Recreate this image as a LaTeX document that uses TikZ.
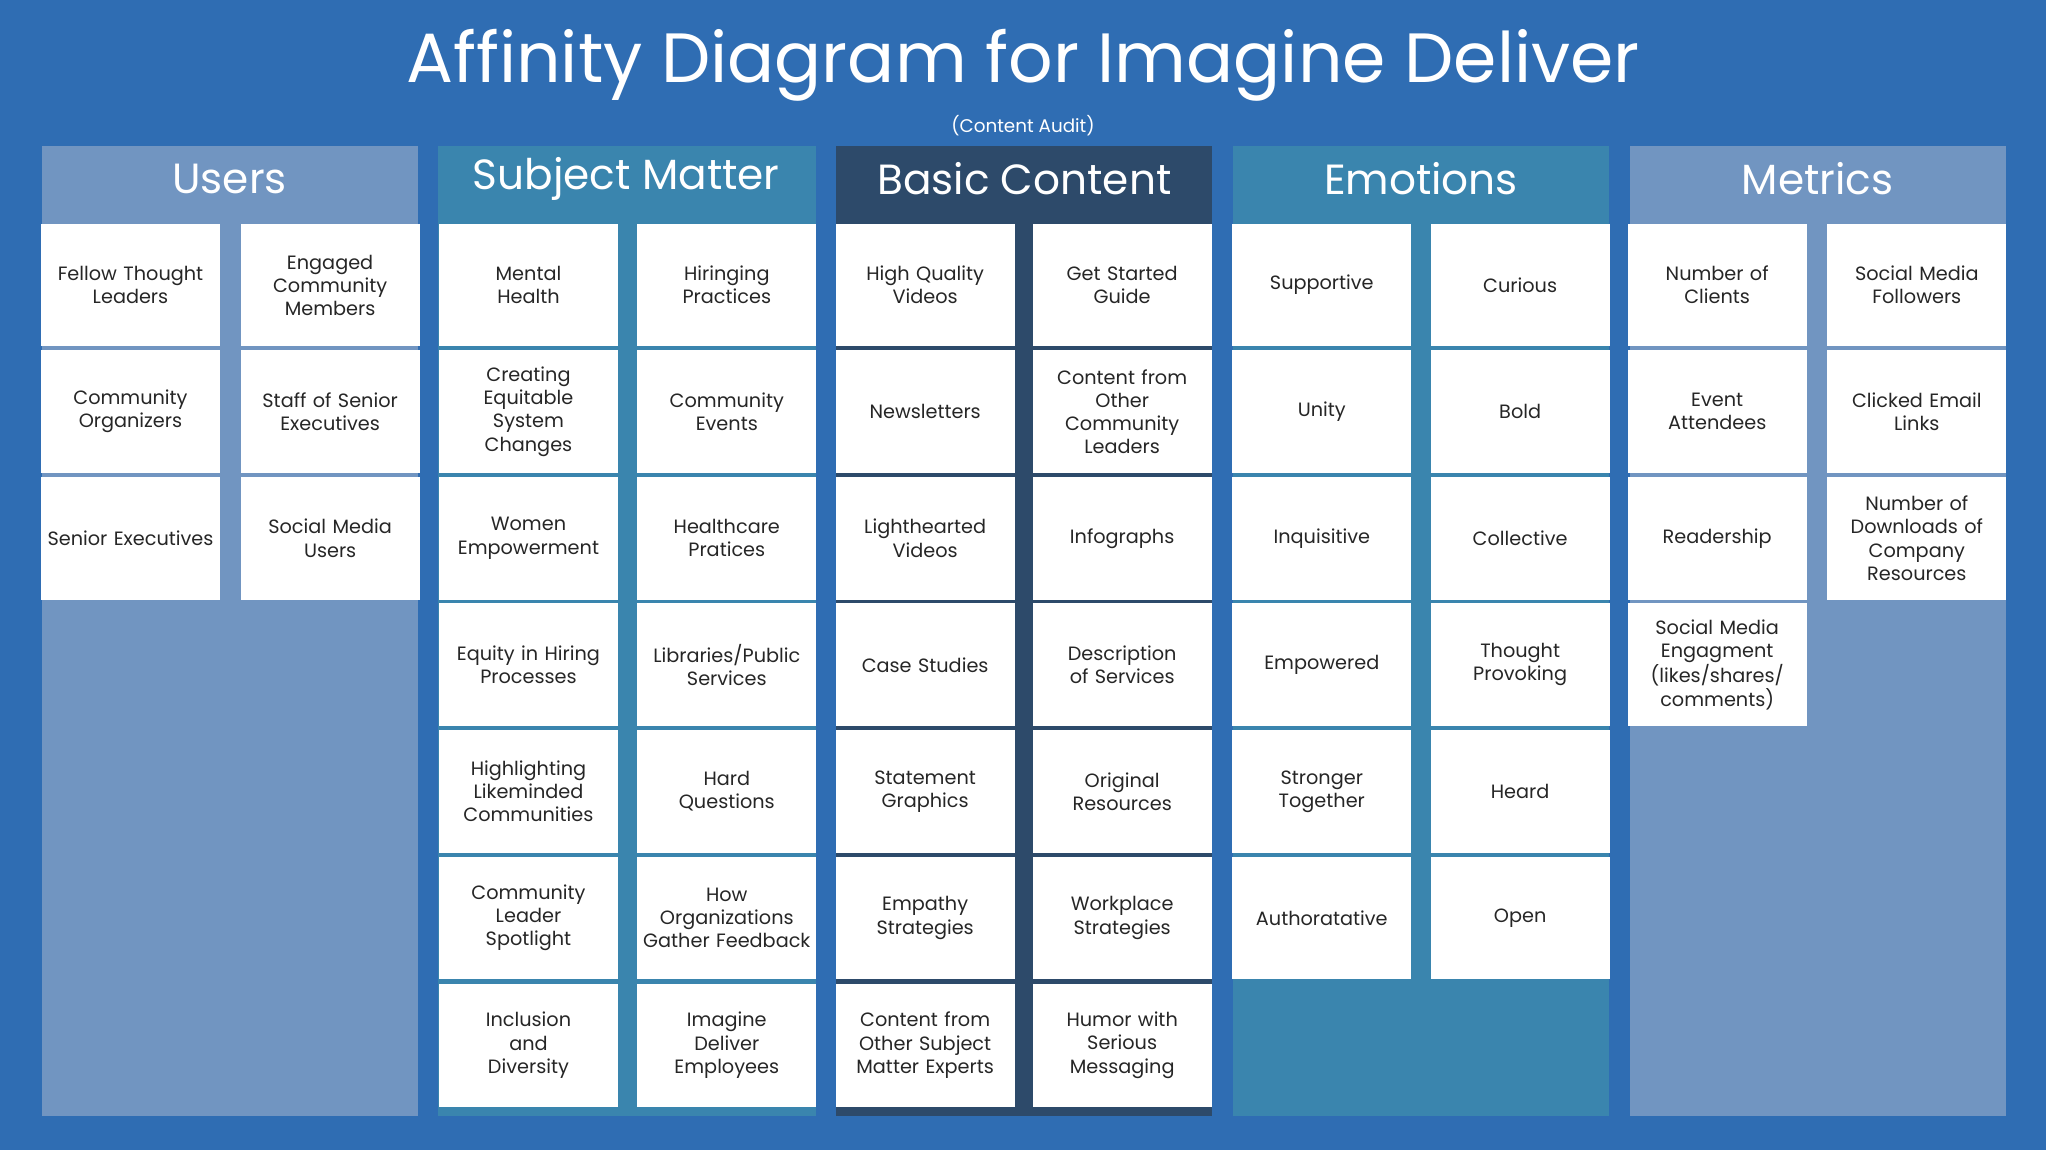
\documentclass[tikz,border=0pt]{standalone}
\usepackage{fontspec}
\setmainfont{Poppins}
\definecolor{bg}{HTML}{2F6DB3}
\definecolor{grey}{HTML}{7195C1}
\definecolor{teal}{HTML}{3A85AE}
\definecolor{dark}{HTML}{2D4A6A}
\tikzset{card/.style={fill=white,minimum width=3.425cm,minimum height=2.35cm,text width=3.3cm,align=center,font=\fontsize{10.5}{12.6}\selectfont,text=black!85,inner sep=0pt},
colbox/.style={inner sep=0pt},
head/.style={text=white,font=\fontsize{23}{26}\selectfont}}
\newcommand{\card}[4]{\node[card] (#1) at (#2,#3) {#4};}
\begin{document}
\begin{tikzpicture}[x=0.025cm,y=-0.025cm]
\fill[bg] (0,0) rectangle (1568,881);
\useasboundingbox (0,0) rectangle (1568,881);
\node[text=white,font=\fontsize{38}{42}\selectfont] (title) at (784,50) {Affinity Diagram for Imagine Deliver};
\node[text=white,font=\fontsize{10}{12}\selectfont] (sub) at (784,96) {(Content Audit)};
% columns
\fill[grey] (32,112) rectangle (320,855);
\fill[teal] (336,112) rectangle (625,855);
\fill[dark] (641,112) rectangle (929,855);
\fill[teal] (945,112) rectangle (1233,855);
\fill[grey] (1249,112) rectangle (1537,855);
\node[head] (h1) at (176,137) {Users};
\node[head] (h2) at (480,137) {Subject Matter};
\node[head] (h3) at (785,137) {Basic Content};
\node[head] (h4) at (1089,137) {Emotions};
\node[head] (h5) at (1393,137) {Metrics};
% Users
\card{u11}{100}{218.5}{Fellow Thought\\Leaders}
\card{u12}{253}{218.5}{Engaged\\Community\\Members}
\card{u21}{100}{315.5}{Community\\Organizers}
\card{u22}{253}{315.5}{Staff of Senior\\Executives}
\card{u31}{100}{412.5}{Senior Executives}
\card{u32}{253}{412.5}{Social Media\\Users}
% Subject Matter
\card{s11}{405}{218.5}{Mental\\Health}
\card{s12}{557}{218.5}{Hiringing\\Practices}
\card{s21}{405}{315.5}{Creating\\Equitable\\System\\Changes}
\card{s22}{557}{315.5}{Community\\Events}
\card{s31}{405}{412.5}{Women\\Empowerment}
\card{s32}{557}{412.5}{Healthcare\\Pratices}
\card{s41}{405}{509.5}{Equity in Hiring\\Processes}
\card{s42}{557}{509.5}{Libraries/Public\\Services}
\card{s51}{405}{606.5}{Highlighting\\Likeminded\\Communities}
\card{s52}{557}{606.5}{Hard\\Questions}
\card{s61}{405}{703.5}{Community\\Leader\\Spotlight}
\card{s62}{557}{703.5}{How\\Organizations\\Gather Feedback}
\card{s71}{405}{801}{Inclusion\\and\\Diversity}
\card{s72}{557}{801}{Imagine\\Deliver\\Employees}
% Basic Content
\card{b11}{709}{218.5}{High Quality\\Videos}
\card{b12}{860}{218.5}{Get Started\\Guide}
\card{b21}{709}{315.5}{Newsletters}
\card{b22}{860}{315.5}{Content from\\Other\\Community\\Leaders}
\card{b31}{709}{412.5}{Lighthearted\\Videos}
\card{b32}{860}{412.5}{Infographs}
\card{b41}{709}{509.5}{Case Studies}
\card{b42}{860}{509.5}{Description\\of Services}
\card{b51}{709}{606.5}{Statement\\Graphics}
\card{b52}{860}{606.5}{Original\\Resources}
\card{b61}{709}{703.5}{Empathy\\Strategies}
\card{b62}{860}{703.5}{Workplace\\Strategies}
\card{b71}{709}{801}{Content from\\Other Subject\\Matter Experts}
\card{b72}{860}{801}{Humor with\\Serious\\Messaging}
% Emotions
\card{e11}{1013}{218.5}{Supportive}
\card{e12}{1165}{218.5}{Curious}
\card{e21}{1013}{315.5}{Unity}
\card{e22}{1165}{315.5}{Bold}
\card{e31}{1013}{412.5}{Inquisitive}
\card{e32}{1165}{412.5}{Collective}
\card{e41}{1013}{509.5}{Empowered}
\card{e42}{1165}{509.5}{Thought\\Provoking}
\card{e51}{1013}{606.5}{Stronger\\Together}
\card{e52}{1165}{606.5}{Heard}
\card{e61}{1013}{703.5}{Authoratative}
\card{e62}{1165}{703.5}{Open}
% Metrics
\card{m11}{1316}{218.5}{Number of\\Clients}
\card{m12}{1469}{218.5}{Social Media\\Followers}
\card{m21}{1316}{315.5}{Event\\Attendees}
\card{m22}{1469}{315.5}{Clicked Email\\Links}
\card{m31}{1316}{412.5}{Readership}
\card{m32}{1469}{412.5}{Number of\\Downloads of\\Company\\Resources}
\card{m41}{1316}{509.5}{Social Media\\Engagment\\(likes/shares/\\comments)}
\end{tikzpicture}
\end{document}
